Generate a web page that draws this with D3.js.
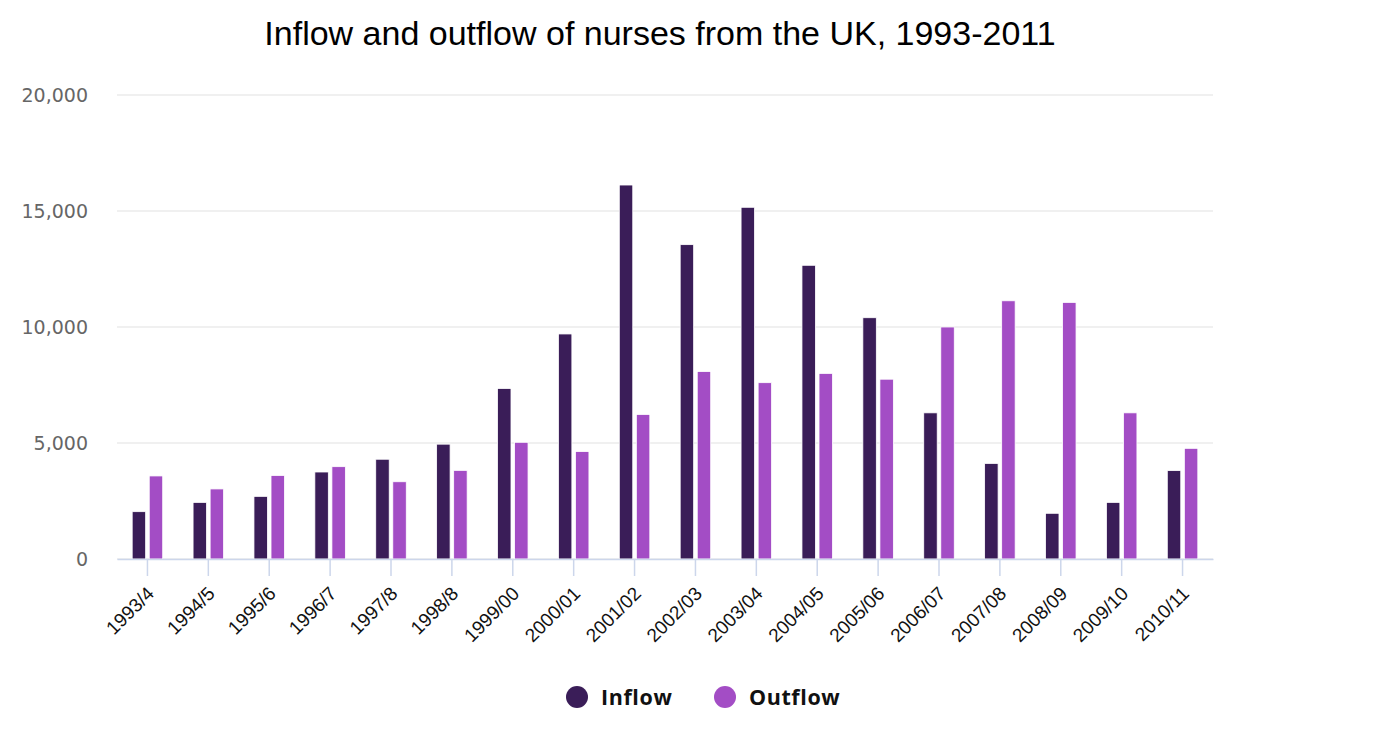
<!DOCTYPE html>
<html>
<head>
<meta charset="utf-8">
<script src="https://cdn.jsdelivr.net/npm/d3@7"></script>
<style>
  body { margin: 0; background: #fff; }
  svg { display: block; }
</style>
</head>
<body>
<svg width="1400" height="747"></svg>
<script>
var years = ['1993/4','1994/5','1995/6','1996/7','1997/8','1998/8','1999/00','2000/01','2001/02',
             '2002/03','2003/04','2004/05','2005/06','2006/07','2007/08','2008/09','2009/10','2010/11']
var inflow  = [2040, 2440, 2700, 3750, 4300, 4950, 7350, 9700, 16120, 13550, 15160, 12660, 10400, 6300, 4120, 1970, 2440, 3810]
var outflow = [3580, 3020, 3600, 3980, 3330, 3820, 5030, 4630, 6230, 8080, 7600, 8000, 7750, 10000, 11130, 11060, 6300, 4770]
var series = ['Inflow', 'Outflow']
var colors = ['#3a1d58', '#a34dc5']
var yTicks = [0, 5000, 10000, 15000, 20000]

var svg = d3.select('svg')
var pLeft = 117, pRight = 1213, pTop = 95, pBottom = 559

var x0 = d3.scaleBand().domain(years).range([pLeft, pRight])
var x1 = d3.scaleBand().domain(series).range([0, x0.bandwidth()])
           .paddingInner(0.21).paddingOuter(0.89)
var y = d3.scaleLinear().domain([0, 20000]).range([pBottom, pTop])

// grid lines
svg.append('g')
   .selectAll('line')
   .data(yTicks)
   .enter()
   .append('line')
   .attr('x1', pLeft).attr('x2', pRight)
   .attr('y1', d => y(d)).attr('y2', d => y(d))
   .attr('stroke', '#e2e2e2').attr('stroke-width', 1.2)

// y labels
svg.append('g')
   .selectAll('text')
   .data(yTicks)
   .enter()
   .append('text')
   .attr('x', 88)
   .attr('y', d => y(d))
   .attr('dy', '0.35em')
   .attr('text-anchor', 'end')
   .attr('font-family', 'DejaVu Sans, Verdana, sans-serif')
   .attr('font-size', 19)
   .attr('fill', '#666')
   .text(d => d3.format(',')(d))

// bars
var rows = years.map((c, i) => ({cat: c, vals: [inflow[i], outflow[i]]}))
var groups = svg.append('g')
   .selectAll('g')
   .data(rows)
   .enter()
   .append('g')
   .attr('transform', d => 'translate(' + x0(d.cat) + ',0)')

groups.selectAll('rect')
   .data(d => d.vals.map((v, j) => ({s: series[j], v: v, j: j})))
   .enter()
   .append('rect')
   .attr('x', d => x1(d.s))
   .attr('width', x1.bandwidth())
   .attr('y', d => y(d.v))
   .attr('height', d => pBottom - y(d.v))
   .attr('fill', d => colors[d.j])
   .attr('stroke', '#fff').attr('stroke-width', 0.8)

// x axis
var xAxis = d3.axisBottom(x0).tickSize(17).tickPadding(6).tickSizeOuter(0)
var ax = svg.append('g')
   .attr('transform', 'translate(0,' + pBottom + ')')
   .call(xAxis)
ax.select('.domain').attr('stroke', '#ccd6eb').attr('stroke-width', 1.5)
ax.selectAll('.tick line').attr('stroke', '#ccd6eb').attr('stroke-width', 1.5)
ax.selectAll('.tick text')
   .attr('font-family', 'Liberation Sans, Arial, sans-serif')
   .attr('font-size', 19)
   .attr('fill', '#111')
   .attr('text-anchor', 'end')
   .attr('x', 0).attr('y', 0)
   .attr('dy', '0.35em')
   .attr('transform', 'translate(3,31) rotate(-45)')

// title
svg.append('text')
   .attr('x', 660).attr('y', 45)
   .attr('text-anchor', 'middle')
   .attr('font-family', 'Liberation Sans, Arial, sans-serif')
   .attr('font-size', 34)
   .attr('fill', '#000')
   .text('Inflow and outflow of nurses from the UK, 1993-2011')

// legend
var leg = svg.append('g')
var lx = [577, 725]
series.forEach(function(s, i) {
  leg.append('circle')
     .attr('cx', lx[i]).attr('cy', 697).attr('r', 11)
     .attr('fill', colors[i])
  leg.append('text')
     .attr('x', lx[i] + 24).attr('y', 705)
     .attr('font-family', 'Open Sans, Noto Sans, sans-serif')
     .attr('font-weight', 'bold')
     .attr('font-size', 21.5)
     .attr('letter-spacing', 0.6)
     .attr('fill', '#111')
     .text(s)
})
</script>
</body>
</html>
